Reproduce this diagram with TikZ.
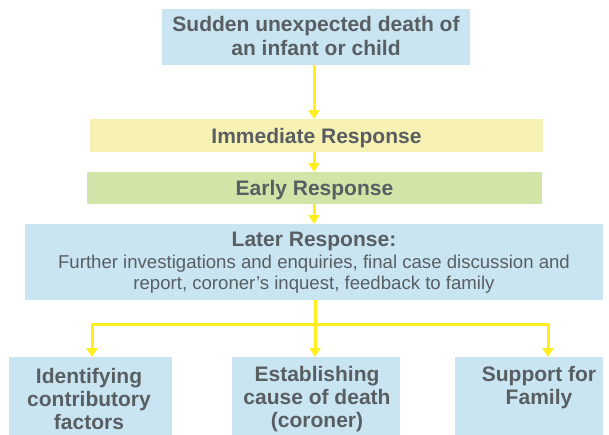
\documentclass[tikz,border=0pt]{standalone}
\usepackage{fontspec}
\setmainfont{Liberation Sans}
\usetikzlibrary{arrows.meta,calc}
\definecolor{txt}{HTML}{595E62}
\definecolor{boxblue}{HTML}{C9E5F1}
\definecolor{boxyellow}{HTML}{F7F1B4}
\definecolor{boxgreen}{HTML}{D2E4A8}
\definecolor{arr}{HTML}{FFEF1E}
\begin{document}
\begin{tikzpicture}[x=1pt,y=-1pt,
  box/.style={inner sep=0pt,outer sep=0pt,draw=none},
  ttl/.style={text=txt,font=\bfseries\fontsize{21}{24.5}\selectfont,align=center,inner sep=0pt},
  body/.style={text=txt,font=\fontsize{18.6}{21}\selectfont,align=center,inner sep=0pt},
  conn/.style={draw=arr,line width=3pt,-{Triangle[length=9pt,width=11pt]}},
  link/.style={draw=arr,line width=3pt}]
\useasboundingbox (0,0) rectangle (609,434);
% boxes
\node[box,fill=boxblue,minimum width=308pt,minimum height=56pt] (top) at (316,37) {};
\node[ttl] at (316,36) {Sudden unexpected death of\\an infant or child};
\node[box,fill=boxyellow,minimum width=453pt,minimum height=33pt] (imm) at (316.5,135.5) {};
\node[ttl] at (316.5,138) {Immediate Response};
\node[box,fill=boxgreen,minimum width=455pt,minimum height=32pt] (early) at (314.5,188) {};
\node[ttl] at (314.5,190) {Early Response};
\node[box,fill=boxblue,minimum width=578pt,minimum height=76pt] (later) at (314,262) {};
\node[ttl] (latert) at (314,241.5) {Later Response:};
\node[body] at (314,274.5) {Further investigations and enquiries, final case discussion and\\report, coroner’s inquest, feedback to family};
\node[box,fill=boxblue,minimum width=163pt,minimum height=80pt] (b1) at (90.5,397) {};
\node[box,fill=boxblue,minimum width=168pt,minimum height=80pt] (b2) at (316,397) {};
\node[box,fill=boxblue,minimum width=148pt,minimum height=80pt] (b3) at (529,397) {};
\node[ttl,font=\bfseries\fontsize{21}{23}\selectfont] at (89,399) {Identifying\\contributory\\factors};
\node[ttl,font=\bfseries\fontsize{21}{23}\selectfont] at (317,399) {Establishing\\cause of death\\(coroner)};
\node[ttl,font=\bfseries\fontsize{21}{23}\selectfont] at (539,387.5) {Support for\\Family};
% connectors
\coordinate (ax) at (314,0);
\draw[conn] (top.south -| ax) -- (imm.north -| ax);
\draw[conn] (imm.south -| ax) -- (early.north -| ax);
\draw[conn] (early.south -| ax) -- (later.north -| ax);
\coordinate (hb) at (315,324);
\coordinate (hl) at (92,324);
\coordinate (hr) at (548,324);
\draw[link] (later.south -| hb) -- (hb);
\draw[link,line cap=rect] (hl) -- (hr);
\draw[conn] (hl) -- (hl |- b1.north);
\draw[conn] (hb) -- (hb |- b2.north);
\draw[conn] (hr) -- (hr |- b3.north);
\end{tikzpicture}
\end{document}
